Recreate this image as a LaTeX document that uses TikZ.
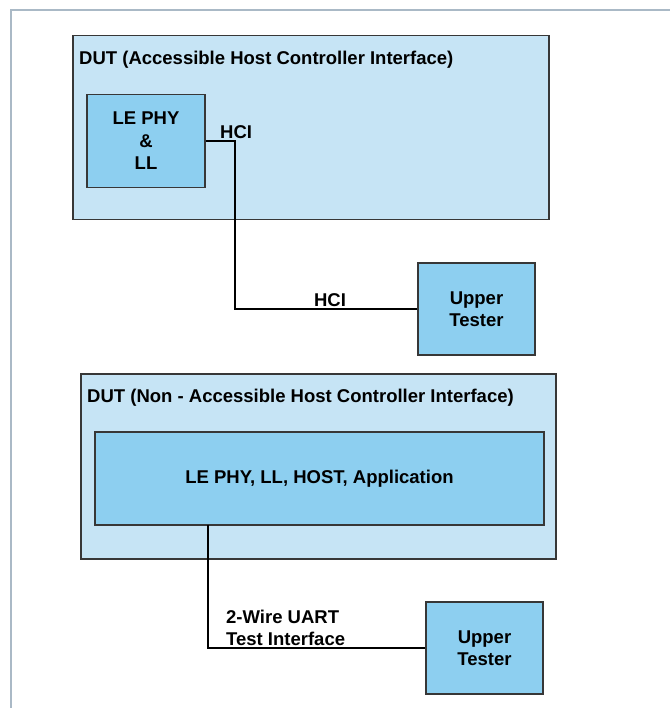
\documentclass[tikz,border=0pt]{standalone}
\usepackage{fontspec}
\setmainfont{Liberation Sans}
\definecolor{outerfill}{RGB}{198,228,245}
\definecolor{innerfill}{RGB}{141,207,240}
\definecolor{boxline}{RGB}{55,55,55}
\definecolor{frameline}{RGB}{170,185,198}
\begin{document}
\begin{tikzpicture}[x=1pt,y=-1pt,
  container/.style={draw=boxline,line width=1.6pt,fill=outerfill,rectangle,inner sep=0pt},
  unit/.style={draw=boxline,line width=1.6pt,fill=innerfill,rectangle,inner sep=0pt,align=center,font=\fontsize{18.5}{22.5}\selectfont\bfseries},
  lbl/.style={font=\fontsize{18.5}{22.5}\selectfont\bfseries,inner sep=0pt,align=left},
  wire/.style={draw=black,line width=1.3pt}]
\useasboundingbox (0,0) rectangle (670,708);
\fill[white] (0,0) rectangle (670,708);
% frame
\draw[frameline,line width=1.8pt] (11,708) -- (11,10) -- (670,10);
% containers
\node[container,minimum width=476pt,minimum height=184pt] (dut1) at (311,127.5) {};
\node[container,minimum width=475pt,minimum height=185pt] (dut2) at (318.5,466.5) {};
\node[lbl,anchor=west] (t1) at (79,60) {DUT (Accessible Host Controller Interface)};
\node[lbl,anchor=west] (t2) at (87,398) {DUT (Non - Accessible Host Controller Interface)};
% units
\node[unit,minimum width=118pt,minimum height=93pt] (le) at (146,141) {LE PHY\\\&\\LL};
\node[unit,minimum width=117pt,minimum height=92pt] (ut1) at (476.5,309) {Upper\\Tester};
\node[unit,minimum width=449pt,minimum height=93pt] (app) at (319.5,478.5) {LE PHY, LL, HOST, Application};
\node[unit,minimum width=117pt,minimum height=92pt] (ut2) at (484.5,648) {Upper\\Tester};
% connectors
\coordinate (b1) at (235,225);
\draw[wire] (le.east) -| (b1) |- (ut1.west);
\coordinate (c2) at (208,525);
\draw[wire] (c2) |- (ut2.west);
% labels
\node[lbl,anchor=west] (h1) at (220,132) {HCI};
\node[lbl] (h2) at (330,300) {HCI};
\node[lbl,anchor=west,font=\fontsize{18.5}{22}\selectfont\bfseries] (u) at (226,628) {2-Wire UART\\Test Interface};
\end{tikzpicture}
\end{document}
